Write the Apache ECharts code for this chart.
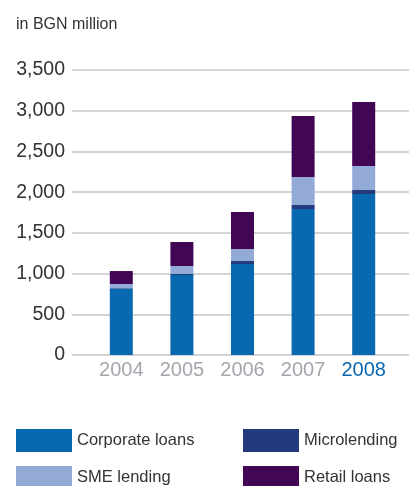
<!DOCTYPE html>
<html>
<head>
<meta charset="utf-8">
<script src="https://cdn.jsdelivr.net/npm/echarts@6/dist/echarts.min.js"></script>
<style>
  html, body { margin: 0; padding: 0; background: #fff; }
  #chart { width: 409px; height: 486px; }
</style>
</head>
<body>
<div id="chart"></div>
<script>
// Loan portfolio by segment, in BGN million
const years = ['2004', '2005', '2006', '2007', '2008'];
const corporateLoans = [818, 982, 1117, 1793, 1977];
const microlending = [5, 13, 37, 49, 49];
const smeLending = [49, 98, 148, 344, 295];
const retailLoans = [159, 295, 454, 749, 786];
const yTicks = [0, 500, 1000, 1500, 2000, 2500, 3000, 3500];

const colors = {
  corporate: '#0868b0',
  micro: '#233a7c',
  sme: '#94aad6',
  retail: '#410654'
};

const yMin = yTicks[0];
const yMax = yTicks[yTicks.length - 1];
const yStep = yTicks[1] - yTicks[0];
const font = 'Liberation Sans, Arial, sans-serif';

function stackSeries(name, data, color) {
  return {
    name: name,
    type: 'bar',
    stack: 'total',
    xAxisIndex: 1,
    yAxisIndex: 1,
    barWidth: 23,
    itemStyle: { color: color },
    data: data
  };
}

// one legend entry per box so the 2x2 layout stays fixed
function legendEntry(name, left, top) {
  return {
    left: left,
    top: top,
    itemWidth: 56,
    itemHeight: 23,
    itemGap: 0,
    icon: 'rect',
    textStyle: { fontFamily: font, fontSize: 16.5, color: '#333' },
    data: [name]
  };
}

const chart = echarts.init(document.getElementById('chart'), null, { renderer: 'canvas' });
chart.setOption({
  animation: false,
  backgroundColor: '#ffffff',
  title: {
    text: 'in BGN million',
    left: 11,
    top: 12,
    textStyle: { fontFamily: font, fontSize: 16, fontWeight: 'normal', color: '#333' }
  },
  grid: [
    { left: 72, right: 0, top: 70, bottom: 131 },
    { left: 91, width: 303, top: 70, bottom: 131 }
  ],
  xAxis: [
    { gridIndex: 0, type: 'value', show: false, min: 0, max: 1 },
    {
      gridIndex: 1,
      type: 'category',
      data: years,
      axisLine: { show: false },
      axisTick: { show: false },
      axisLabel: {
        margin: 5,
        fontFamily: font,
        fontSize: 20,
        color: function (v) { return v === '2008' ? '#0a67b0' : '#a3a7ad'; }
      }
    }
  ],
  yAxis: [
    {
      gridIndex: 0,
      type: 'value',
      min: yMin,
      max: yMax,
      interval: yStep,
      axisLine: { show: false },
      axisTick: { show: false },
      splitLine: { lineStyle: { color: '#c3c6ca', width: 1.5 } },
      axisLabel: {
        margin: 7,
        fontFamily: font,
        fontSize: 19.5,
        color: '#333',
        formatter: function (v) { return v.toLocaleString('en-US'); }
      }
    },
    { gridIndex: 1, type: 'value', min: yMin, max: yMax, interval: yStep, show: false }
  ],
  legend: [
    legendEntry('Corporate loans', 11, 424),
    legendEntry('Microlending', 238, 424),
    legendEntry('SME lending', 11, 461),
    legendEntry('Retail loans', 238, 461)
  ],
  series: [
    stackSeries('Corporate loans', corporateLoans, colors.corporate),
    stackSeries('Microlending', microlending, colors.micro),
    stackSeries('SME lending', smeLending, colors.sme),
    stackSeries('Retail loans', retailLoans, colors.retail)
  ]
});
</script>
</body>
</html>
